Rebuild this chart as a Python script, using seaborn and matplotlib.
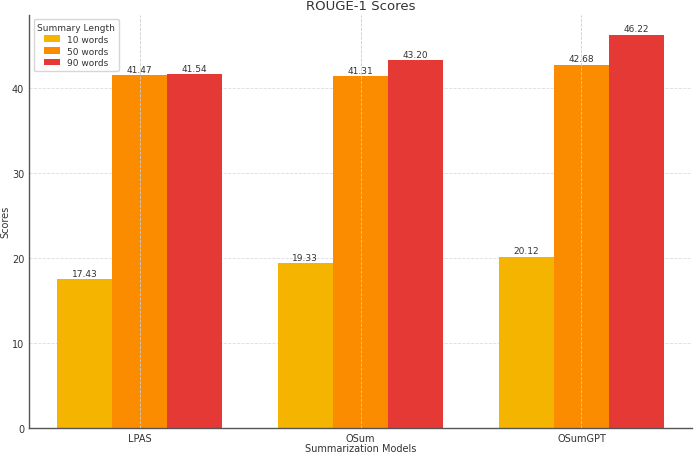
import pandas as pd
import seaborn as sns
import matplotlib.pyplot as plt

# data
models = ["LPAS", "OSum", "OSumGPT"]
lengths = ["10 words", "50 words", "90 words"]
scores_10 = [17.43, 19.33, 20.12]
scores_50 = [41.47, 41.31, 42.68]
scores_90 = [41.54, 43.20, 46.22]
colors = ["#F4B400", "#FB8C00", "#E53935"]

df = pd.DataFrame({
    "model": models * 3,
    "length": [lengths[0]] * 3 + [lengths[1]] * 3 + [lengths[2]] * 3,
    "score": scores_10 + scores_50 + scores_90,
})

sns.set_style("white")
plt.rcParams["font.family"] = ["DejaVu Sans"]
text_color = "#333333"

fig, ax = plt.subplots(figsize=(6.94, 4.56), dpi=100)
fig.subplots_adjust(left=0.042, right=0.997, top=0.965, bottom=0.06)

sns.barplot(data=df, x="model", y="score", hue="length", palette=colors,
            width=0.75, saturation=1, ax=ax, zorder=2, linewidth=0)

for cont in ax.containers:
    ax.bar_label(cont, fmt="%.2f", fontsize=6.5, color=text_color, padding=1)

ax.set_axisbelow(True)
ax.grid(axis="y", linestyle="--", color="#dddddd", linewidth=0.6)
for x in ax.get_xticks():
    ax.axvline(x, color="#cccccc", linestyle="--", linewidth=0.6, zorder=3)

ax.set_title("ROUGE-1 Scores", fontsize=9.5, color=text_color, pad=4)
ax.set_xlabel("Summarization Models", fontsize=7, color=text_color, labelpad=0)
ax.set_ylabel("Scores", fontsize=7, color=text_color, labelpad=1)
ax.tick_params(axis="both", labelsize=7, colors=text_color, length=2, width=0.8, pad=1.5)
ax.set_yticks([0, 10, 20, 30, 40])

for side in ["top", "right"]:
    ax.spines[side].set_visible(False)
for side in ["left", "bottom"]:
    ax.spines[side].set_color("#555555")
    ax.spines[side].set_linewidth(1)

leg = ax.legend(title="Summary Length", loc="upper left", fontsize=6.5,
                title_fontsize=6.5, frameon=True, edgecolor="#cccccc",
                handlelength=1.8, handleheight=0.7, labelspacing=0.3)
for t in leg.get_texts():
    t.set_color(text_color)
leg.get_title().set_color(text_color)

plt.savefig("out.png", dpi=100)
plt.close()
